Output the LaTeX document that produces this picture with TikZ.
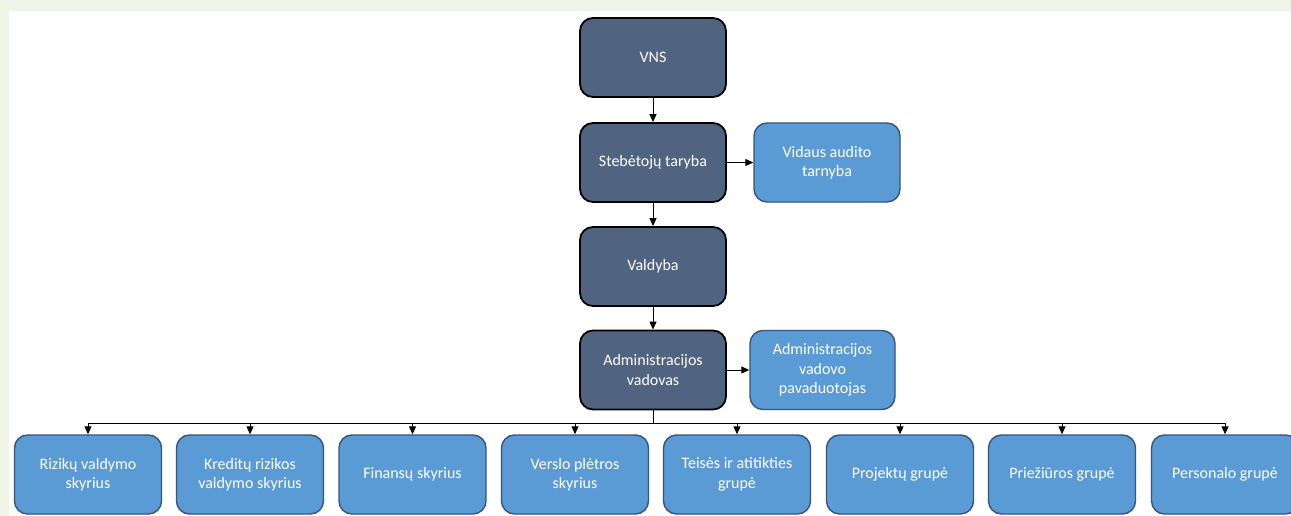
\documentclass[tikz,border=0pt]{standalone}
\usepackage{fontspec}
\setmainfont{Carlito}
\usetikzlibrary{arrows.meta}
\definecolor{bggreen}{RGB}{239,244,230}
\definecolor{darkfill}{RGB}{80,99,128}
\definecolor{lightfill}{RGB}{91,155,213}
\definecolor{lightborder}{RGB}{52,86,122}
\tikzset{
  darkbox/.style={draw=black, line width=1.8pt, fill=darkfill, rounded corners=13pt,
    minimum width=146pt, minimum height=79pt, inner sep=0pt, text=white, align=center,
    font=\fontsize{16pt}{19.5pt}\selectfont},
  lightbox/.style={draw=lightborder, line width=1.4pt, fill=lightfill, rounded corners=13pt,
    minimum width=146pt, minimum height=79pt, inner sep=0pt, text=white, align=center,
    font=\fontsize{16pt}{19.5pt}\selectfont},
  conn/.style={line width=1pt, draw=black, -{Triangle[length=8pt,width=7pt]}},
  bus/.style={line width=1pt, draw=black}
}
\begin{document}
\begin{tikzpicture}[x=1pt,y=-1pt]
\useasboundingbox (0,0) rectangle (1291,516);
\clip (0,0) rectangle (1291,516);
\fill[bggreen] (0,0) rectangle (1291,516);
\fill[white] (9,11) rectangle (1291,516);
% main column
\node[darkbox] (vns) at (653,57.5) {VNS};
\node[darkbox] (st) at (653,162.5) {Stebėtojų taryba};
\node[lightbox] (va) at (827,162.5) {Vidaus audito\\tarnyba};
\node[darkbox] (val) at (653,266.5) {Valdyba};
\node[darkbox] (adm) at (653,370) {Administracijos\\vadovas};
\node[lightbox, minimum width=145pt] (pav) at (822.5,370) {Administracijos\\vadovo\\pavaduotojas};
% bottom row
\node[lightbox, minimum width=147pt] (b1) at (88,474.5) {Rizikų valdymo\\skyrius};
\node[lightbox, minimum width=147pt] (b2) at (250,474.5) {Kreditų rizikos\\valdymo skyrius};
\node[lightbox, minimum width=147pt] (b3) at (412.5,474.5) {Finansų skyrius};
\node[lightbox, minimum width=147pt] (b4) at (575,474.5) {Verslo plėtros\\skyrius};
\node[lightbox, minimum width=147pt] (b5) at (737,474.5) {Teisės ir atitikties\\grupė};
\node[lightbox, minimum width=147pt] (b6) at (900,474.5) {Projektų grupė};
\node[lightbox, minimum width=147pt] (b7) at (1062,474.5) {Priežiūros grupė};
\node[lightbox, minimum width=147pt] (b8) at (1225,474.5) {Personalo grupė};
% connectors
\draw[conn] (vns.south) -- (st.north);
\draw[conn] (st.south) -- (val.north);
\draw[conn] (val.south) -- (adm.north);
\draw[conn] (st.east) -- (va.west);
\draw[conn] (adm.east) -- (pav.west);
\coordinate (busc) at (653,423);
\draw[bus] (adm.south) -- (busc);
\draw[bus] (b1.north |- busc) -- (b8.north |- busc);
\foreach \b in {b1,b2,b3,b4,b5,b6,b7,b8}{
  \draw[conn] (\b.north |- busc) -- (\b.north);
}
\end{tikzpicture}
\end{document}
